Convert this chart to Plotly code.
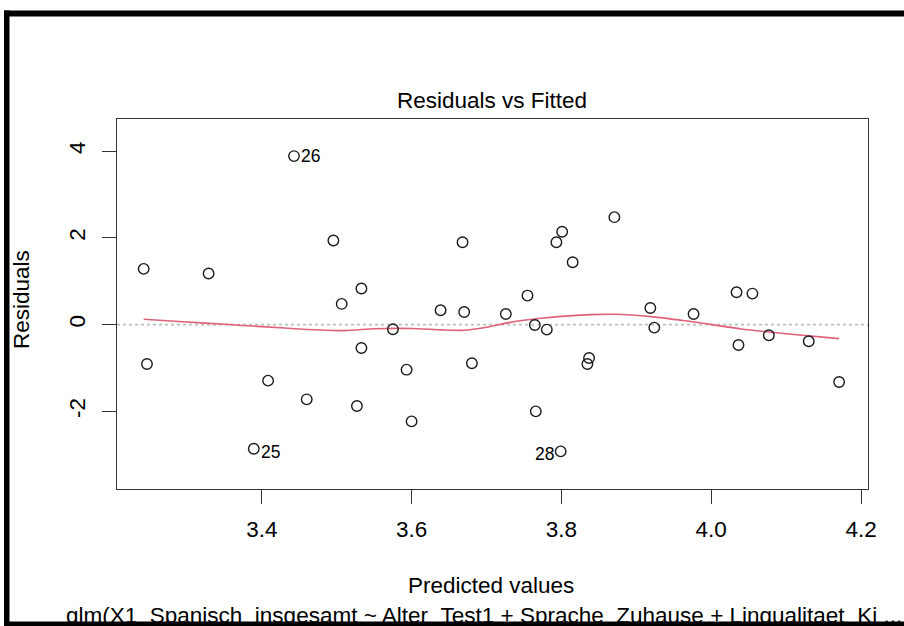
import plotly.graph_objects as go

# ---- data ----
fitted = [3.2423, 3.3290, 3.2467, 3.4084, 3.3893, 3.4430, 3.4956, 3.6680, 3.8010, 3.7933,
          3.8150, 3.5330, 3.5067, 3.7547, 3.6387, 3.6702, 3.7258, 3.5751, 3.7645, 3.7805,
          3.5330, 3.6805, 3.5933, 3.8369, 3.8347, 3.4600, 3.5270, 3.6000, 3.7658, 3.7990,
          3.8707, 3.9187, 3.9240, 3.9764, 4.0338, 4.0550, 4.0364, 4.0769, 4.1302, 4.1707]
resid = [1.285, 1.177, -0.907, -1.292, -2.862, 3.885, 1.939, 1.900, 2.139, 1.900,
         1.438, 0.831, 0.477, 0.669, 0.331, 0.292, 0.246, -0.108, -0.008, -0.115,
         -0.539, -0.892, -1.039, -0.770, -0.908, -1.723, -1.877, -2.231, -2.000, -2.923,
         2.477, 0.384, -0.069, 0.246, 0.746, 0.715, -0.469, -0.246, -0.385, -1.323]

label_x = [3.4430, 3.3893, 3.7990]
label_y = [3.885, -2.862, -2.923]
label_text = ["26", "25", "28"]
label_side = ["right", "right", "left"]

smooth_x = [3.2423, 3.30, 3.35, 3.40, 3.45, 3.51, 3.55, 3.60, 3.64, 3.67, 3.70, 3.73,
            3.77, 3.80, 3.84, 3.87, 3.92, 3.96, 3.98, 4.04, 4.10, 4.1707]
smooth_y = [0.123, 0.060, 0.007, -0.046, -0.100, -0.138, -0.095, -0.090, -0.122, -0.131,
            -0.060, 0.046, 0.140, 0.190, 0.230, 0.238, 0.185, 0.100, 0.054, -0.100,
            -0.210, -0.323]

x_ticks = [3.4, 3.6, 3.8, 4.0, 4.2]
x_ticktext = ["3.4", "3.6", "3.8", "4.0", "4.2"]
y_ticks = [-2, 0, 2, 4]
y_ticktext = ["-2", "0", "2", "4"]

title_text = "Residuals vs Fitted"
xlab = "Predicted values"
ylab = "Residuals"
sub_caption = "glm(X1_Spanisch_insgesamt ~ Alter_Test1 + Sprache_Zuhause + Lingualitaet_Ki ..."

# ---- layout geometry ----
W, H = 904, 626
L, R, T, B = 117, 868, 119, 489  # plot area in pixels
FONT = "Liberation Sans, Arial, Helvetica, sans-serif"
FS = 22.5


def px(x):
    return (x - L) / (R - L)


def py(y):
    return (B - y) / (B - T)


fig = go.Figure()

# zero reference line (dotted gray)
fig.add_shape(type="line", xref="paper", yref="y", x0=0, x1=1, y0=0, y1=0,
              line=dict(color="#BEBEBE", width=1.6, dash="dot"), layer="below")

fig.add_trace(go.Scatter(x=smooth_x, y=smooth_y, mode="lines",
                         line=dict(color="#E0607A", width=1.6, shape="spline", smoothing=0.6),
                         hoverinfo="skip", showlegend=False))
fig.add_trace(go.Scatter(x=fitted, y=resid, mode="markers",
                         marker=dict(symbol="circle-open", size=10.5, color="#1a1a1a",
                                     line=dict(width=1.4, color="#1a1a1a")),
                         showlegend=False))

for lx, ly, lt, side in zip(label_x, label_y, label_text, label_side):
    fig.add_annotation(x=lx, y=ly, text=lt, showarrow=False,
                       xanchor="left" if side == "right" else "right",
                       xshift=5 if side == "right" else -5,
                       yshift=0 if lt == "26" else -3,
                       font=dict(family=FONT, size=17.5, color="black"))

# titles
fig.add_annotation(xref="paper", yref="paper", x=px(492), y=py(100), text=title_text,
                   showarrow=False, xanchor="center", yanchor="middle",
                   font=dict(family=FONT, size=FS, color="black"))
fig.add_annotation(xref="paper", yref="paper", x=px(491), y=py(585), text=xlab,
                   showarrow=False, xanchor="center", yanchor="middle",
                   font=dict(family=FONT, size=FS, color="black"))
fig.add_annotation(xref="paper", yref="paper", x=px(21), y=py(300), text=ylab,
                   showarrow=False, xanchor="center", yanchor="middle", textangle=-90,
                   font=dict(family=FONT, size=FS, color="black"))
fig.add_annotation(xref="paper", yref="paper", x=px(484), y=py(620), text=sub_caption,
                   showarrow=False, xanchor="center", yanchor="bottom", yshift=-10,
                   font=dict(family=FONT, size=FS, color="black"))

# black frame (top, left, bottom)
for (x0, y0, x1, y1) in [(4, 10.5, 910, 16.5), (4, 10.5, 9.5, 632), (4, 621.5, 910, 632)]:
    fig.add_shape(type="rect", xref="paper", yref="paper",
                  x0=px(x0), x1=px(x1), y0=py(y0), y1=py(y1),
                  fillcolor="black", line=dict(width=0), layer="above")

fig.update_xaxes(range=[3.2067, 4.2093], showgrid=False, zeroline=False,
                 showline=True, mirror=True, linecolor="#333333", linewidth=1.2,
                 ticks="outside", ticklen=14, tickwidth=1, tickcolor="#333333",
                 tickvals=x_ticks, ticktext=x_ticktext, ticklabelstandoff=6,
                 tickfont=dict(family=FONT, size=FS, color="black"))
fig.update_yaxes(range=[-3.79, 4.74], showgrid=False, zeroline=False,
                 showline=True, mirror=True, linecolor="#333333", linewidth=1.2,
                 ticks="outside", ticklen=14, tickwidth=1, tickcolor="#333333",
                 tickvals=y_ticks, ticktext=y_ticktext, tickangle=-90, ticklabelstandoff=8,
                 tickfont=dict(family=FONT, size=FS, color="black"))

fig.update_layout(width=W, height=H, margin=dict(l=L, r=W - R, t=T, b=H - B),
                  paper_bgcolor="white", plot_bgcolor="white", showlegend=False)

fig.write_html("out.html")
